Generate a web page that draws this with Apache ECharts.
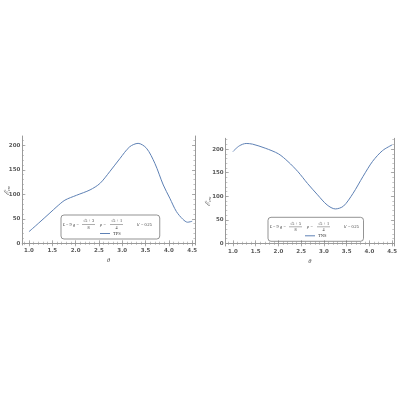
<!DOCTYPE html>
<html><head><meta charset="utf-8">
<script src="https://cdn.jsdelivr.net/npm/echarts@6/dist/echarts.min.js"></script>
<style>html,body{margin:0;padding:0;background:#fff}#c{width:400px;height:400px}</style>
</head><body><div id="c"></div>
<script>
// ---- data ----
const tpsTheta = [1.0, 1.2, 1.45, 1.6, 1.77, 2.02, 2.31, 2.52, 2.73, 2.95, 3.16, 3.34, 3.52, 3.70, 3.88, 4.02, 4.16, 4.30, 4.40, 4.5];
const tpsE     = [23.7, 40.5, 62, 75, 88, 98, 109, 122, 146, 173, 197, 204, 194, 163, 119, 92, 65, 49, 43, 45];
const tnsTheta = [1.0, 1.14, 1.29, 1.43, 1.71, 2.0, 2.21, 2.43, 2.64, 2.86, 3.07, 3.25, 3.43, 3.64, 3.86, 4.07, 4.29, 4.5];
const tnsE     = [195, 207, 212, 210.6, 202, 190, 173.6, 152, 127, 103, 81.5, 73, 79, 106, 142, 174, 197, 209];
const xMajor = [1.0, 1.5, 2.0, 2.5, 3.0, 3.5, 4.0, 4.5];
const yMajor = [0, 50, 100, 150, 200];
const xMinor = []; for (let i = 9; i <= 45; i++) xMinor.push(i / 10);
const yMinor = []; for (let i = 0; i <= 22; i++) yMinor.push(i * 10);
const seriesNames = ['TPS', 'TNS'];
const gNum = ['√5 + 3', '√5 + 5'];

const frameColor = '#9a9a9a';
const lineColor = '#5E81B5';
const labelColor = '#5a5a5a';

function axisSet(dim, grid, min, max, showName) {
  const arr = [];
  const positions = dim === 'x' ? ['bottom', 'top'] : ['left', 'right'];
  positions.forEach((pos, k) => {
    arr.push({
      type: 'value', gridIndex: grid, position: pos, min: min, max: max,
      axisLine: { show: true, lineStyle: { color: frameColor, width: 1 } },
      splitLine: { show: false },
      axisTick: { show: true, inside: true, length: 3, customValues: dim === 'x' ? xMajor : yMajor,
                  lineStyle: { color: frameColor, width: 0.8 } },
      axisLabel: { show: k === 0, customValues: dim === 'x' ? xMajor : yMajor, fontSize: 5.5,
                   color: labelColor, fontWeight: 'bold', fontFamily: 'DejaVu Sans', margin: dim === 'x' ? 2.5 : 2,
                   formatter: v => dim === 'x' ? v.toFixed(1) : String(v) },
      name: (k === 0 && showName) ? (dim === 'x' ? 'θ' : '{a|ℰ}{b|cw}') : '',
      nameLocation: 'middle',
      nameMoveOverlap: false,
      nameGap: dim === 'x' ? 12 : 11,
      nameTextStyle: dim === 'x'
        ? { fontSize: 6.5, fontStyle: 'italic', fontFamily: 'Liberation Serif', color: '#444' }
        : { rich: { a: { fontSize: 7, fontFamily: 'Liberation Serif', fontStyle: 'italic', color: '#444' },
                    b: { fontSize: 4.5, fontFamily: 'Liberation Serif', fontStyle: 'italic', color: '#444', verticalAlign: 'bottom', padding: [4, 0, 0, 0] } } }
    });
    arr.push({
      type: 'value', gridIndex: grid, position: pos, min: min, max: max,
      axisLine: { show: false }, splitLine: { show: false }, axisLabel: { show: false },
      axisTick: { show: true, inside: true, length: 1.6, customValues: dim === 'x' ? xMinor : yMinor,
                  lineStyle: { color: frameColor, width: 0.6 } }
    });
  });
  return arr;
}

const xAxes = [...axisSet('x', 0, 0.857, 4.56, true), ...axisSet('x', 1, 0.84, 4.54, true)];
const yAxes = [...axisSet('y', 0, -3.5, 219, true), ...axisSet('y', 1, -5.7, 223, true)];
yAxes[4].nameGap = 13;
yAxes[4].nameTextStyle = Object.assign({}, yAxes[4].nameTextStyle, { padding: [0, 18, 0, 0] });

function formula(x0, y0, idx) {
  const st = { fontSize: 4.2, fontFamily: 'Liberation Serif', fill: '#333' };
  const it = Object.assign({}, st, { fontStyle: 'italic' });
  const els = [];
  const t = (text, x, y, style, align) => els.push({ type: 'text', x: x0 + x, y: y0 + y,
     style: Object.assign({ text: text, textAlign: align || 'left', textVerticalAlign: 'middle' }, style) });
  t('L', 2, 9.5, it); t('= 9', 5, 9.5, st);
  t('g', 12, 9.5, it); t('=', 15.5, 9.5, st);
  t(gNum[idx], 27.5, 6.3, st, 'center');
  els.push({ type: 'line', shape: { x1: x0 + 21, y1: y0 + 9.5, x2: x0 + 34, y2: y0 + 9.5 }, style: { stroke: '#333', lineWidth: 0.4 } });
  t('8', 27.5, 12.8, st, 'center');
  t('ρ', 39, 9.5, it); t('=', 42.5, 9.5, st);
  t('√5 + 1', 55.5, 6.3, st, 'center');
  els.push({ type: 'line', shape: { x1: x0 + 49, y1: y0 + 9.5, x2: x0 + 62, y2: y0 + 9.5 }, style: { stroke: '#333', lineWidth: 0.4 } });
  t('4', 55.5, 12.8, st, 'center');
  t('k′', 76, 9.5, it); t('= 0.25', 80, 9.5, st);
  return els;
}

const legendIcon = 'path://M0,0 L20,0 L20,2 L0,2 Z';
const option = {
  animation: false,
  backgroundColor: '#fff',
  grid: [
    { left: 22.3, right: 205, top: 136, bottom: 155, show: false },
    { left: 225.7, right: 1.5, top: 138.3, bottom: 154, show: false }
  ],
  xAxis: xAxes,
  yAxis: yAxes,
  legend: [
    { data: [{ name: seriesNames[0], icon: legendIcon, itemStyle: { color: lineColor } }], left: 61, top: 215, orient: 'horizontal',
      padding: [16, 39, 3, 39], borderColor: '#666', borderWidth: 0.7, borderRadius: 3,
      itemWidth: 10, itemHeight: 1, itemGap: 2,
      textStyle: { fontSize: 4.5, fontFamily: 'Liberation Serif', color: '#333', padding: [0, 0, 0, -2] } },
    { data: [{ name: seriesNames[1], icon: legendIcon, itemStyle: { color: lineColor } }], left: 268, top: 217.3, orient: 'horizontal',
      padding: [16, 37, 3, 37], borderColor: '#666', borderWidth: 0.7, borderRadius: 3,
      itemWidth: 10, itemHeight: 1, itemGap: 2,
      textStyle: { fontSize: 4.5, fontFamily: 'Liberation Serif', color: '#333', padding: [0, 0, 0, -2] } }
  ],
  graphic: [...formula(61, 215, 0), ...formula(268, 217.3, 1)],
  series: [
    { name: seriesNames[0], type: 'line', xAxisIndex: 0, yAxisIndex: 0, smooth: 0.3, symbol: 'none',
      lineStyle: { color: lineColor, width: 1 }, itemStyle: { color: lineColor },
      data: tpsTheta.map((t, i) => [t, tpsE[i]]) },
    { name: seriesNames[1], type: 'line', xAxisIndex: 4, yAxisIndex: 4, smooth: 0.3, symbol: 'none',
      lineStyle: { color: lineColor, width: 1 }, itemStyle: { color: lineColor },
      data: tnsTheta.map((t, i) => [t, tnsE[i]]) }
  ]
};
const chart = echarts.init(document.getElementById('c'), null, { renderer: 'canvas' });
chart.setOption(option);
</script></body></html>
